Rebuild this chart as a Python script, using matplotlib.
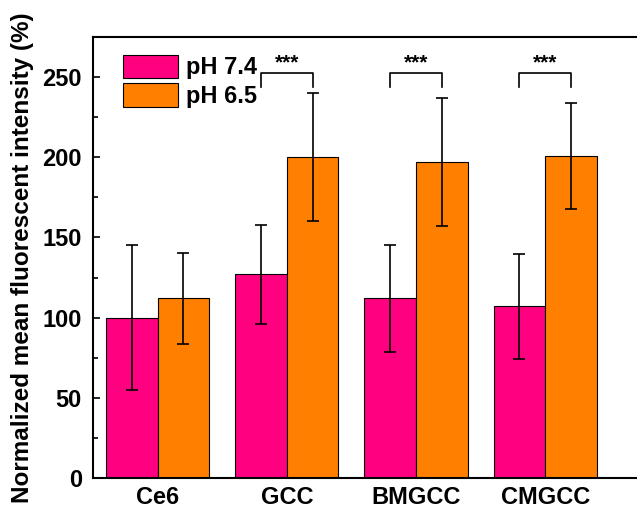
import numpy as np
import matplotlib.pyplot as plt
from matplotlib.ticker import MultipleLocator

plt.rcParams['font.family'] = ['Liberation Sans', 'DejaVu Sans']
plt.rcParams['font.weight'] = 'bold'

groups = ['Ce6', 'GCC', 'BMGCC', 'CMGCC']
ph74_mean = [100, 127, 112, 107]
ph74_err = [45, 31, 33.5, 33]
ph65_mean = [112, 200, 197, 201]
ph65_err = [28.5, 40, 40, 33]
sig_groups = [1, 2, 3]
sig_label = '***'

pink = '#FF0080'
orange = '#FF8000'

fig = plt.figure(figsize=(6.37, 5.16), dpi=100)
ax = fig.add_axes([0.146, 0.0736, 0.862, 0.8547])

x = np.arange(len(groups))
w = 0.4
ekw = dict(ecolor='black', elinewidth=1.2, capsize=4, capthick=1.2)
ax.bar(x - w / 2, ph74_mean, w, yerr=ph74_err, color=pink, edgecolor='black',
       linewidth=0.8, error_kw=ekw, label='pH 7.4')
ax.bar(x + w / 2, ph65_mean, w, yerr=ph65_err, color=orange, edgecolor='black',
       linewidth=0.8, error_kw=ekw, label='pH 6.5')

# significance brackets between the two pH conditions
for g in sig_groups:
    x0, x1 = g - w / 2, g + w / 2
    ax.plot([x0, x0, x1, x1], [244, 252.5, 252.5, 244], color='black', lw=1.2)
    ax.text(g, 253, sig_label, ha='center', va='bottom', fontsize=15)

ax.set_xlim(-0.5, 3.75)
ax.set_ylim(0, 275)
ax.set_xticks(x)
ax.set_xticklabels(groups, fontsize=17)
ax.tick_params(axis='x', length=0, pad=6)
ax.yaxis.set_major_locator(MultipleLocator(50))
ax.yaxis.set_minor_locator(MultipleLocator(25))
ax.tick_params(axis='y', which='major', direction='in', length=5, width=1.2,
               labelsize=17, pad=8)
ax.tick_params(axis='y', which='minor', direction='in', length=3.5, width=1.2)
for s in ax.spines.values():
    s.set_linewidth(1.5)
ax.set_ylabel('Normalized mean fluorescent intensity (%)', fontsize=17.5,
              fontweight='bold', labelpad=6)

ax.legend(loc='upper left', bbox_to_anchor=(0.055, 0.96), frameon=False,
          fontsize=17, handlelength=2.3, handleheight=1.15, handletextpad=0.35,
          labelspacing=0.17, borderpad=0, borderaxespad=0)

fig.savefig('out.png', dpi=100)
